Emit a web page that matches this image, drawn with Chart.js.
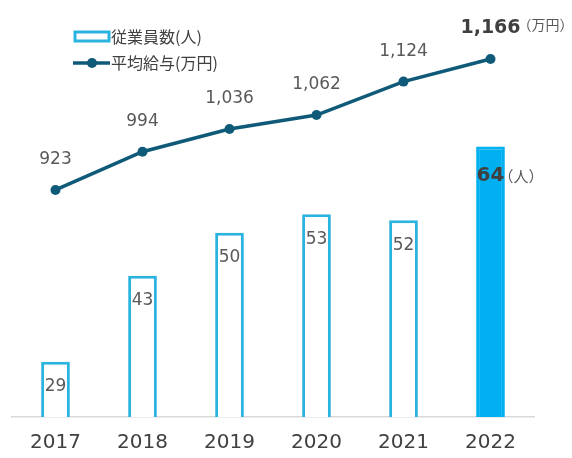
<!DOCTYPE html>
<html>
<head>
<meta charset="utf-8">
<script src="https://cdn.jsdelivr.net/npm/chart.js@4/dist/chart.umd.min.js"></script>
<style>
  html, body { margin: 0; padding: 0; background: #ffffff; }
  #wrap { width: 572px; height: 458px; position: relative; }
</style>
</head>
<body>
<div id="wrap"><canvas id="c" width="572" height="458"></canvas></div>
<script>
// Fiscal years, employee headcount (persons) and average salary (10k yen)
const years = ['2017', '2018', '2019', '2020', '2021', '2022'];
const headcount = [29, 43, 50, 53, 52, 64];
const salary = [923, 994, 1036, 1062, 1124, 1166];

const seriesNames = ['従業員数(人)', '平均給与(万円)'];
const unitPersons = '（人）';
const unitYen = '（万円）';

const barEdge = '#2bb3e0';
const barFillLatest = '#00b0f0';
const lineColor = '#0f5a78';
const labelColor = '#595959';
const strongColor = '#404040';
const numFont = '"DejaVu Sans", Verdana, sans-serif';
const jpFont = '"Noto Sans CJK JP", "Noto Sans", sans-serif';

const last = years.length - 1;

// Value labels on bars and line points, plus the legend block
const annotate = {
  id: 'annotate',
  afterDatasetsDraw(chart) {
    const ctx = chart.ctx;
    const barMeta = chart.getDatasetMeta(0);
    const lineMeta = chart.getDatasetMeta(1);
    ctx.save();
    ctx.textBaseline = 'middle';

    // headcount labels inside bars
    barMeta.data.forEach((bar, i) => {
      const v = headcount[i];
      if (i === last) {
        ctx.font = 'bold 20px ' + numFont;
        ctx.fillStyle = strongColor;
        ctx.textAlign = 'center';
        const y = bar.y + 29;
        ctx.fillText(String(v), bar.x, y);
        const w = ctx.measureText(String(v)).width;
        ctx.font = '15px ' + jpFont;
        ctx.textAlign = 'left';
        ctx.fillStyle = labelColor;
        ctx.fillText(unitPersons, bar.x + w / 2 - 6, y + 1);
      } else {
        ctx.font = '17px ' + numFont;
        ctx.fillStyle = labelColor;
        ctx.textAlign = 'center';
        ctx.fillText(String(v), bar.x, bar.y + 25);
      }
    });

    // salary labels above points
    lineMeta.data.forEach((pt, i) => {
      const txt = salary[i].toLocaleString('en-US');
      if (i === last) {
        ctx.font = 'bold 19px ' + numFont;
        ctx.fillStyle = strongColor;
        ctx.textAlign = 'center';
        const y = pt.y - 31;
        ctx.fillText(txt, pt.x, y);
        const w = ctx.measureText(txt).width;
        ctx.font = '14px ' + jpFont;
        ctx.textAlign = 'left';
        ctx.fillStyle = labelColor;
        ctx.fillText(unitYen, pt.x + w / 2 - 3, y - 3);
      } else {
        ctx.font = '17px ' + numFont;
        ctx.fillStyle = labelColor;
        ctx.textAlign = 'center';
        ctx.fillText(txt, pt.x, pt.y - 30);
      }
    });

    // legend
    ctx.lineWidth = 3;
    ctx.strokeStyle = barEdge;
    ctx.fillStyle = '#ffffff';
    ctx.fillRect(75, 32, 34, 9);
    ctx.strokeRect(75, 32, 34, 9);
    ctx.strokeStyle = lineColor;
    ctx.lineWidth = 3.5;
    ctx.beginPath();
    ctx.moveTo(73, 63);
    ctx.lineTo(110, 63);
    ctx.stroke();
    ctx.fillStyle = lineColor;
    ctx.beginPath();
    ctx.arc(92, 63, 5, 0, Math.PI * 2);
    ctx.fill();
    ctx.font = '16px ' + jpFont;
    ctx.fillStyle = strongColor;
    ctx.textAlign = 'left';
    ctx.fillText(seriesNames[0], 111, 37);
    ctx.fillText(seriesNames[1], 111, 63);
    ctx.restore();
  }
};

new Chart(document.getElementById('c'), {
  type: 'bar',
  data: {
    labels: years,
    datasets: [
      {
        type: 'bar',
        label: seriesNames[0],
        data: headcount,
        yAxisID: 'yBar',
        order: 1,
        backgroundColor: headcount.map((_, i) => i === last ? barFillLatest : '#ffffff'),
        borderColor: headcount.map((_, i) => i === last ? barFillLatest : barEdge),
        borderWidth: 3,
        borderSkipped: false,
        barPercentage: 0.33,
        categoryPercentage: 1
      },
      {
        type: 'line',
        label: seriesNames[1],
        data: salary,
        yAxisID: 'yLine',
        order: 0,
        borderColor: lineColor,
        backgroundColor: lineColor,
        borderWidth: 3.5,
        pointRadius: 5,
        pointHoverRadius: 5,
        pointBackgroundColor: lineColor,
        pointBorderWidth: 0,
        tension: 0
      }
    ]
  },
  options: {
    responsive: false,
    animation: false,
    layout: { padding: { left: 12, right: 38, top: 20, bottom: 0 } },
    plugins: { legend: { display: false }, tooltip: { enabled: false } },
    scales: {
      x: {
        offset: true,
        grid: { display: false, drawTicks: false },
        border: { display: true, color: '#d9d9d9', width: 1.5 },
        ticks: { color: strongColor, font: { family: numFont, size: 20 }, padding: 14 },
        afterFit(scale) { scale.height = 41; }
      },
      yBar: {
        display: false,
        min: 20,
        max: 84.6
      },
      yLine: {
        display: false,
        min: 501.8,
        max: 1238.3
      }
    }
  },
  plugins: [annotate]
});
</script>
</body>
</html>
